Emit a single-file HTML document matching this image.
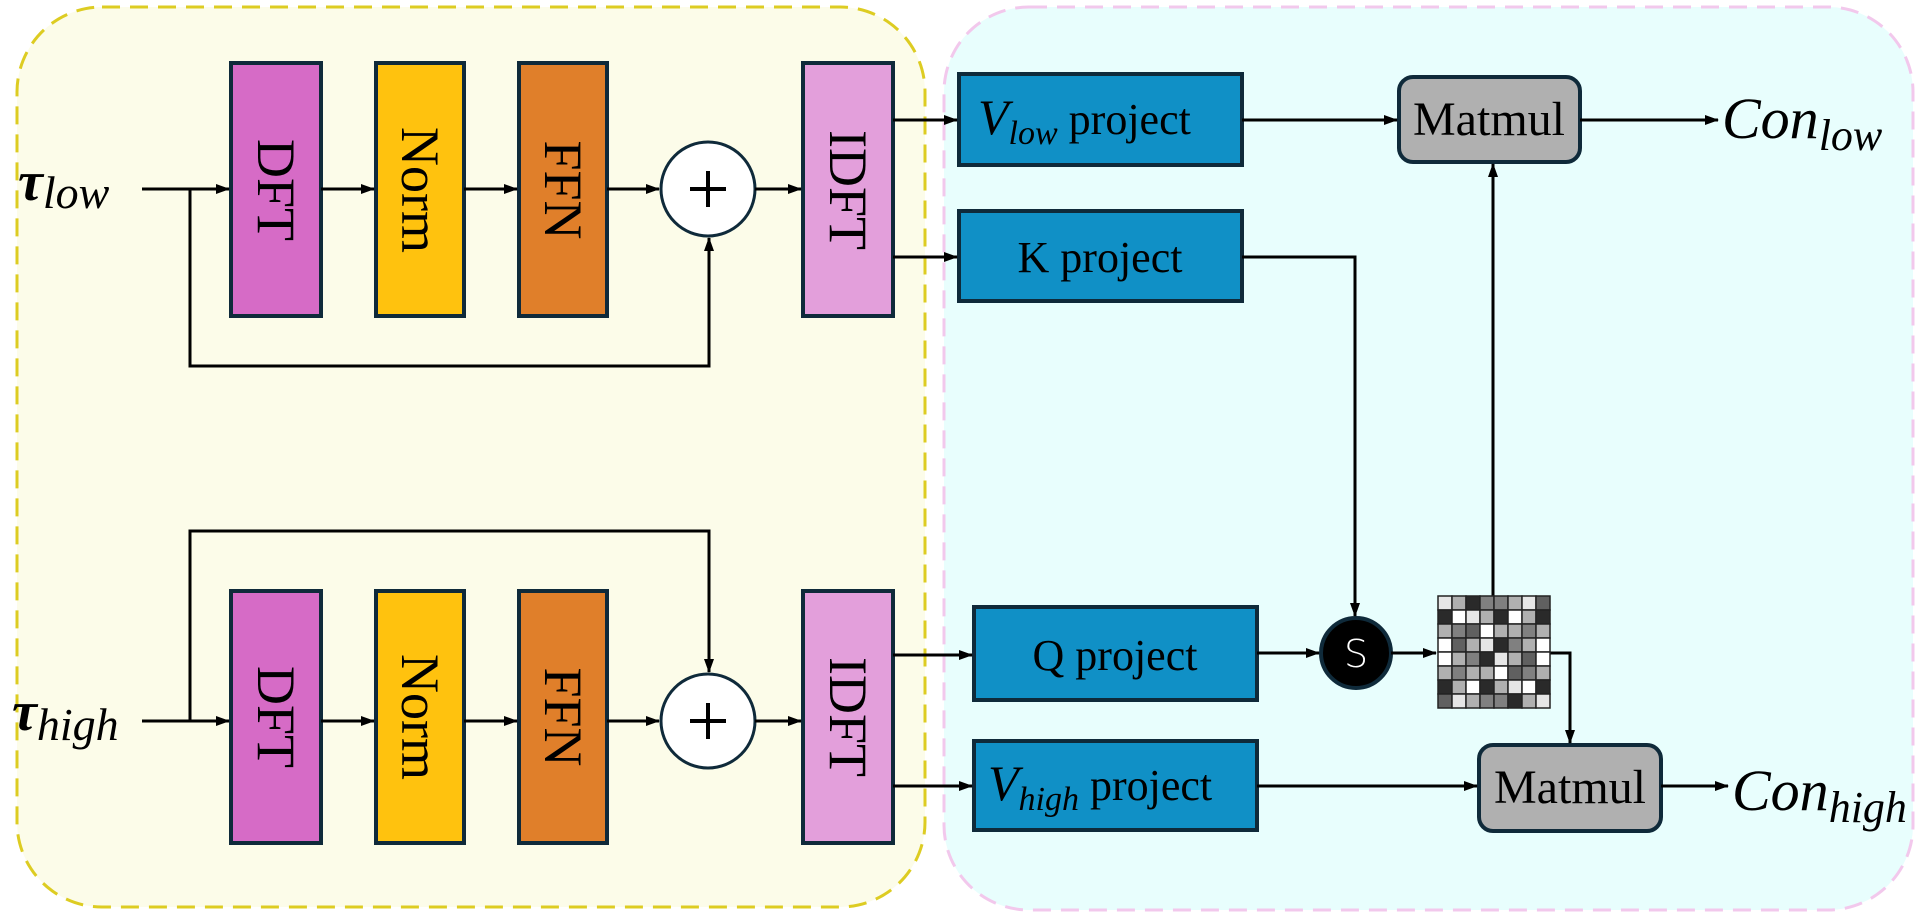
<!DOCTYPE html>
<html><head><meta charset="utf-8"><style>
html,body{margin:0;padding:0;background:#fff;}
svg{display:block;}
text{font-family:"Liberation Serif",serif;fill:#000;}
</style></head><body>
<svg width="1919" height="919" viewBox="0 0 1919 919" xmlns="http://www.w3.org/2000/svg">
<defs>
<marker id="a" markerWidth="14" markerHeight="10" refX="13" refY="5" orient="auto" markerUnits="userSpaceOnUse">
<path d="M0,0 L14,5 L0,10 Z" fill="#000"/></marker>
</defs>
<rect x="17" y="7" width="908" height="900" rx="85" fill="#FCFCE9" stroke="#DDCC22" stroke-width="3" stroke-dasharray="18,10"/>
<rect x="944" y="7" width="969" height="903" rx="85" fill="#E8FEFD" stroke="#F2C8EC" stroke-width="3" stroke-dasharray="18,10"/>

<g stroke="#0F2A3A" stroke-width="4">
<rect x="231" y="63" width="90" height="253" fill="#D66BC6"/>
<rect x="376" y="63" width="88" height="253" fill="#FFC20E"/>
<rect x="519" y="63" width="88" height="253" fill="#E07F2A"/>
<rect x="803" y="63" width="90" height="253" fill="#E39FDB"/>
<rect x="231" y="591" width="90" height="252" fill="#D66BC6"/>
<rect x="376" y="591" width="88" height="252" fill="#FFC20E"/>
<rect x="519" y="591" width="88" height="252" fill="#E07F2A"/>
<rect x="803" y="591" width="90" height="252" fill="#E39FDB"/>
<rect x="959" y="74" width="283" height="91" fill="#1090C6"/>
<rect x="959" y="211" width="283" height="90" fill="#1090C6"/>
<rect x="974" y="607" width="283" height="93" fill="#1090C6"/>
<rect x="974" y="741" width="283" height="89" fill="#1090C6"/>
<rect x="1399" y="77" width="181" height="85" rx="14" fill="#B0B0B0"/>
<rect x="1479" y="745" width="182" height="86" rx="14" fill="#B0B0B0"/>
</g>
<g stroke="#0F2A3A" stroke-width="3" fill="#fff">
<circle cx="708" cy="189" r="47"/>
<circle cx="708" cy="721" r="47"/>
</g>
<g stroke="#000" stroke-width="4">
<path d="M690,189 H726 M708,171 V207"/>
<path d="M690,721 H726 M708,703 V739"/>
</g>
<circle cx="1356" cy="653" r="35" fill="#000" stroke="#0F2A3A" stroke-width="4"/>
<text x="1356" y="667" font-size="38" text-anchor="middle" style="fill:#fff;font-family:'DejaVu Sans',sans-serif;font-weight:300">S</text>

<g font-size="54" text-anchor="middle">
<text transform="translate(258,190) rotate(90)">DFT</text>
<text transform="translate(402,190) rotate(90)">Norm</text>
<text transform="translate(545,190) rotate(90)">FFN</text>
<text transform="translate(830,190) rotate(90)">IDFT</text>
<text transform="translate(258,717) rotate(90)">DFT</text>
<text transform="translate(402,717) rotate(90)">Norm</text>
<text transform="translate(545,717) rotate(90)">FFN</text>
<text transform="translate(830,717) rotate(90)">IDFT</text>
</g>
<g font-size="44">
<text x="978" y="134"><tspan font-style="italic" font-size="50">V</tspan><tspan font-style="italic" font-size="34" dy="10">low</tspan><tspan dy="-10"> project</tspan></text>
<text x="1100" y="272" text-anchor="middle">K project</text>
<text x="1115" y="670" text-anchor="middle">Q project</text>
<text x="988" y="800"><tspan font-style="italic" font-size="50">V</tspan><tspan font-style="italic" font-size="34" dy="10">high</tspan><tspan dy="-10"> project</tspan></text>
<text x="1489" y="135" text-anchor="middle" font-size="48">Matmul</text>
<text x="1570" y="803" text-anchor="middle" font-size="48">Matmul</text>
</g>
<g font-size="58" font-style="italic">
<text x="1722" y="138">Con<tspan font-size="44" dy="12">low</tspan></text>
<text x="1732" y="810">Con<tspan font-size="44" dy="12">high</tspan></text>
</g>
<g>
<text x="18" y="200" font-size="56" font-weight="bold" font-style="italic">τ<tspan font-weight="normal" font-size="46" dy="8">low</tspan></text>
<text x="12" y="730" font-size="56" font-weight="bold" font-style="italic">τ<tspan font-weight="normal" font-size="46" dy="10">high</tspan></text>
</g>

<g stroke="#000" stroke-width="3" fill="none">
<path d="M142,189 H229" marker-end="url(#a)"/>
<path d="M190,189 V366 H709 V238" marker-end="url(#a)"/>
<path d="M321,189 H374" marker-end="url(#a)"/>
<path d="M464,189 H517" marker-end="url(#a)"/>
<path d="M607,189 H659" marker-end="url(#a)"/>
<path d="M755,189 H801" marker-end="url(#a)"/>
<path d="M893,120 H957" marker-end="url(#a)"/>
<path d="M893,257 H957" marker-end="url(#a)"/>
<path d="M142,721 H229" marker-end="url(#a)"/>
<path d="M190,721 V531 H709 V672" marker-end="url(#a)"/>
<path d="M321,721 H374" marker-end="url(#a)"/>
<path d="M464,721 H517" marker-end="url(#a)"/>
<path d="M607,721 H659" marker-end="url(#a)"/>
<path d="M755,721 H801" marker-end="url(#a)"/>
<path d="M893,655 H972" marker-end="url(#a)"/>
<path d="M893,786 H972" marker-end="url(#a)"/>
<path d="M1242,120 H1397" marker-end="url(#a)"/>
<path d="M1580,120 H1718" marker-end="url(#a)"/>
<path d="M1242,257 H1355 V616" marker-end="url(#a)"/>
<path d="M1257,653 H1319" marker-end="url(#a)"/>
<path d="M1391,653 H1436" marker-end="url(#a)"/>
<path d="M1493,596 V164" marker-end="url(#a)"/>
<path d="M1550,653 H1570 V743" marker-end="url(#a)"/>
<path d="M1257,786 H1477" marker-end="url(#a)"/>
<path d="M1661,786 H1728" marker-end="url(#a)"/>
</g>

<g stroke="#222" stroke-width="1.5">
<rect x="1438" y="596" width="14" height="14" fill="#E6E6E6"/><rect x="1452" y="596" width="14" height="14" fill="#B0B0B0"/><rect x="1466" y="596" width="14" height="14" fill="#2A2A2A"/><rect x="1480" y="596" width="14" height="14" fill="#808080"/><rect x="1494" y="596" width="14" height="14" fill="#808080"/><rect x="1508" y="596" width="14" height="14" fill="#B0B0B0"/><rect x="1522" y="596" width="14" height="14" fill="#E6E6E6"/><rect x="1536" y="596" width="14" height="14" fill="#606060"/>
<rect x="1438" y="610" width="14" height="14" fill="#2A2A2A"/><rect x="1452" y="610" width="14" height="14" fill="#FFFFFF"/><rect x="1466" y="610" width="14" height="14" fill="#E6E6E6"/><rect x="1480" y="610" width="14" height="14" fill="#B0B0B0"/><rect x="1494" y="610" width="14" height="14" fill="#2A2A2A"/><rect x="1508" y="610" width="14" height="14" fill="#FFFFFF"/><rect x="1522" y="610" width="14" height="14" fill="#B0B0B0"/><rect x="1536" y="610" width="14" height="14" fill="#2A2A2A"/>
<rect x="1438" y="624" width="14" height="14" fill="#B0B0B0"/><rect x="1452" y="624" width="14" height="14" fill="#808080"/><rect x="1466" y="624" width="14" height="14" fill="#606060"/><rect x="1480" y="624" width="14" height="14" fill="#FFFFFF"/><rect x="1494" y="624" width="14" height="14" fill="#B0B0B0"/><rect x="1508" y="624" width="14" height="14" fill="#B0B0B0"/><rect x="1522" y="624" width="14" height="14" fill="#808080"/><rect x="1536" y="624" width="14" height="14" fill="#B0B0B0"/>
<rect x="1438" y="638" width="14" height="14" fill="#FFFFFF"/><rect x="1452" y="638" width="14" height="14" fill="#606060"/><rect x="1466" y="638" width="14" height="14" fill="#B0B0B0"/><rect x="1480" y="638" width="14" height="14" fill="#E6E6E6"/><rect x="1494" y="638" width="14" height="14" fill="#2A2A2A"/><rect x="1508" y="638" width="14" height="14" fill="#808080"/><rect x="1522" y="638" width="14" height="14" fill="#B0B0B0"/><rect x="1536" y="638" width="14" height="14" fill="#FFFFFF"/>
<rect x="1438" y="652" width="14" height="14" fill="#FFFFFF"/><rect x="1452" y="652" width="14" height="14" fill="#B0B0B0"/><rect x="1466" y="652" width="14" height="14" fill="#808080"/><rect x="1480" y="652" width="14" height="14" fill="#2A2A2A"/><rect x="1494" y="652" width="14" height="14" fill="#E6E6E6"/><rect x="1508" y="652" width="14" height="14" fill="#B0B0B0"/><rect x="1522" y="652" width="14" height="14" fill="#606060"/><rect x="1536" y="652" width="14" height="14" fill="#FFFFFF"/>
<rect x="1438" y="666" width="14" height="14" fill="#B0B0B0"/><rect x="1452" y="666" width="14" height="14" fill="#808080"/><rect x="1466" y="666" width="14" height="14" fill="#B0B0B0"/><rect x="1480" y="666" width="14" height="14" fill="#B0B0B0"/><rect x="1494" y="666" width="14" height="14" fill="#FFFFFF"/><rect x="1508" y="666" width="14" height="14" fill="#606060"/><rect x="1522" y="666" width="14" height="14" fill="#808080"/><rect x="1536" y="666" width="14" height="14" fill="#B0B0B0"/>
<rect x="1438" y="680" width="14" height="14" fill="#2A2A2A"/><rect x="1452" y="680" width="14" height="14" fill="#B0B0B0"/><rect x="1466" y="680" width="14" height="14" fill="#FFFFFF"/><rect x="1480" y="680" width="14" height="14" fill="#2A2A2A"/><rect x="1494" y="680" width="14" height="14" fill="#B0B0B0"/><rect x="1508" y="680" width="14" height="14" fill="#E6E6E6"/><rect x="1522" y="680" width="14" height="14" fill="#FFFFFF"/><rect x="1536" y="680" width="14" height="14" fill="#2A2A2A"/>
<rect x="1438" y="694" width="14" height="14" fill="#606060"/><rect x="1452" y="694" width="14" height="14" fill="#E6E6E6"/><rect x="1466" y="694" width="14" height="14" fill="#B0B0B0"/><rect x="1480" y="694" width="14" height="14" fill="#808080"/><rect x="1494" y="694" width="14" height="14" fill="#808080"/><rect x="1508" y="694" width="14" height="14" fill="#2A2A2A"/><rect x="1522" y="694" width="14" height="14" fill="#B0B0B0"/><rect x="1536" y="694" width="14" height="14" fill="#E6E6E6"/>
</g>
</svg>
</body></html>
